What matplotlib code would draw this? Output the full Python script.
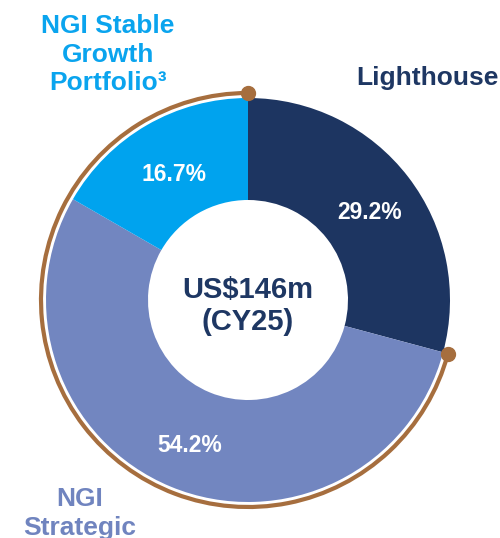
import numpy as np
import matplotlib
matplotlib.use("Agg")
import matplotlib.pyplot as plt
from matplotlib.patches import Arc

plt.rcParams['font.family'] = ['Liberation Sans', 'DejaVu Sans']

# Data
categories = ["Lighthouse", "NGI Strategic", "NGI Stable Growth Portfolio³"]
values = [29.2, 54.2, 16.7]
pct_labels = ["29.2%", "54.2%", "16.7%"]
colors = ["#1D3561", "#7286C0", "#00A3EE"]
center_line1 = "US$146m"
center_line2 = "(CY25)"

W, H = 500, 538
fig = plt.figure(figsize=(W / 100, H / 100), dpi=100)
ax = fig.add_axes([0, 0, 1, 1])

def Y(py):
    return H - py

cx, cy = 248, Y(300)
R_out, R_in, R_arc = 202, 100, 207

ax.pie(values, colors=colors, startangle=90, counterclock=False,
       center=(cx, cy), radius=R_out,
       wedgeprops=dict(width=R_out - R_in, linewidth=0))

# brown arc around non-Lighthouse part
brown = "#A66E3E"
end_angle = 90 - 360 * values[0] / sum(values)
arc = Arc((cx, cy), 2 * R_arc, 2 * R_arc, theta1=90, theta2=end_angle + 360,
          color=brown, lw=3, zorder=3)
ax.add_patch(arc)
for a in (90, end_angle):
    t = np.deg2rad(a)
    ax.plot(cx + R_arc * np.cos(t), cy + R_arc * np.sin(t), 'o',
            color=brown, ms=10, zorder=4)

# percentage labels
pct_pos = [(370, 219), (190, 452), (174, 181)]
for lab, (px, py) in zip(pct_labels, pct_pos):
    ax.text(px, Y(py), lab, color="white", fontsize=16.5, fontweight="bold",
            ha="center", va="baseline")

# center text
navy = "#1E3763"
ax.text(248, Y(298), center_line1, color=navy, fontsize=21, fontweight="bold",
        ha="center", va="baseline")
ax.text(248, Y(330), center_line2, color=navy, fontsize=21, fontweight="bold",
        ha="center", va="baseline")

# category labels
ax.text(427, Y(85), "Lighthouse", color=navy, fontsize=19, fontweight="bold",
        ha="center", va="baseline")
for line, py in zip(["NGI Stable", "Growth", "Portfolio³"], [33, 61.5, 90]):
    ax.text(108, Y(py), line, color="#0AA4EE", fontsize=19, fontweight="bold",
            ha="center", va="baseline")
for line, py in zip(["NGI", "Strategic"], [506, 535]):
    ax.text(80, Y(py), line, color="#7084BF", fontsize=19, fontweight="bold",
            ha="center", va="baseline")

ax.set_xlim(0, W)
ax.set_ylim(0, H)
ax.set_aspect('auto')
ax.axis('off')

fig.savefig("out.png", dpi=100)
